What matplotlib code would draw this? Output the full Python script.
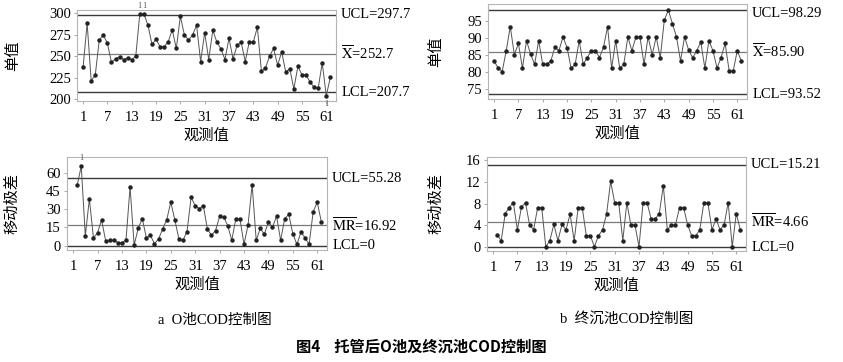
import matplotlib
matplotlib.use('Agg')
import matplotlib.pyplot as plt

plt.rcParams['font.family'] = ['Liberation Serif', 'Noto Sans CJK SC']
plt.rcParams['mathtext.fontset'] = 'stix'
plt.rcParams['font.size'] = 10.5

# O池 单值
o_single = [236.9, 288.2, 221.2, 227.8, 268.6, 274.5, 264.7, 242.7, 246.7, 249.0,
            245.9, 247.8, 245.9, 249.8, 299.0, 299.0, 285.9, 263.5, 269.4, 260.8,
            260.8, 266.7, 280.4, 258.8, 296.0, 274.5, 268.6, 274.1, 285.9, 243.5,
            277.3, 245.9, 280.0, 266.3, 258.4, 245.9, 270.6, 246.7, 262.4, 266.3,
            243.5, 266.3, 266.3, 283.5, 232.2, 236.1, 249.8, 258.8, 239.2, 254.9,
            231.4, 235.3, 211.8, 238.0, 228.2, 228.2, 219.6, 213.7, 212.5, 241.9,
            203.9, 225.1]
# O池 移动极差 (from point 2)
o_mr = [49.5, 65.3, 8.2, 38.4, 6.3, 10.6, 21.2, 4.0, 4.5, 4.5,
        2.6, 2.6, 4.5, 48.4, 0.5, 14.3, 22.2, 6.6, 8.5, 1.6,
        5.6, 13.5, 21.2, 35.7, 21.2, 5.6, 4.5, 11.6, 39.7, 33.0,
        30.4, 33.0, 13.8, 8.5, 12.4, 24.0, 23.8, 16.4, 4.5, 22.2,
        22.2, 1.1, 17.2, 50.0, 4.5, 14.3, 9.3, 19.6, 15.1, 24.3,
        4.5, 22.2, 25.7, 9.8, 1.1, 11.1, 6.6, 1.1, 27.8, 35.7,
        19.8]
# 终沉池 单值
z_single = [83.2, 81.3, 80.2, 86.3, 93.3, 85.1, 88.4, 81.2, 89.2, 85.3,
            82.3, 89.2, 82.3, 82.3, 83.3, 87.3, 86.3, 90.3, 87.2, 81.2,
            82.3, 89.2, 82.3, 84.3, 86.3, 86.3, 84.3, 87.3, 93.3, 81.2,
            89.2, 81.2, 82.3, 90.3, 86.3, 90.3, 90.3, 82.3, 90.3, 85.1,
            90.3, 84.2, 95.2, 98.1, 94.2, 90.3, 83.3, 90.3, 86.5, 84.2,
            86.3, 88.8, 81.2, 89.2, 86.3, 81.2, 84.3, 88.4, 80.4, 80.4,
            86.3, 83.3]
# 终沉池 移动极差 (from point 2)
z_mr = [2.3, 1.2, 6.2, 7.3, 8.2, 3.2, 7.4, 8.2, 4.1, 3.2,
        7.3, 7.3, 0.1, 1.2, 4.2, 1.2, 4.2, 3.2, 6.1, 1.2,
        7.3, 7.3, 2.1, 2.1, 0.1, 2.1, 3.2, 6.1, 12.1, 8.2,
        8.2, 1.2, 8.2, 4.1, 4.1, 0.1, 8.2, 8.2, 5.2, 5.2,
        6.2, 11.3, 3.2, 4.1, 4.1, 7.3, 7.3, 4.1, 2.1, 2.1,
        3.2, 8.2, 8.2, 3.2, 5.2, 3.2, 4.1, 8.2, 0.1, 6.2,
        3.2]

xticks = [1, 7, 13, 19, 25, 31, 37, 43, 49, 55, 61]

W, H = 843, 362
fig = plt.figure(figsize=(W / 100, H / 100), dpi=100)


def px_axes(l, r, t, b):
    return fig.add_axes([l / W, 1 - b / H, (r - l) / W, (b - t) / H])


def draw(ax, vals, start, limits, labels, ylim, yticks, flags, ucl_label_y=None):
    x = list(range(start, start + len(vals)))
    ucl, cl, lcl = limits
    ax.axhline(ucl, color='#3a3a3a', lw=1.0)
    ax.axhline(cl, color='#7a7a7a', lw=0.9)
    ax.axhline(lcl, color='#3a3a3a', lw=1.0)
    ax.plot(x, vals, color='#555555', lw=0.7, marker='o', ms=2.2,
            mfc='#222222', mec='#222222')
    for n, side in flags:
        v = vals[n - start]
        dy = 6 if side > 0 else -6
        ax.annotate('1', (n, v), xytext=(0, dy), textcoords='offset points',
                    ha='center', va='center', fontsize=6, color='#555555',
                    annotation_clip=False)
    ax.set_xlim(-0.5, 63.4)
    ax.set_ylim(*ylim)
    ax.set_xticks(xticks)
    ax.set_yticks(yticks)
    ax.tick_params(direction='out', length=2.5, width=0.6, color='#999999',
                   labelsize=10.5, pad=2)
    ax.tick_params(axis='x', pad=5)
    for s in ax.spines.values():
        s.set_color('#b5b5b5')
        s.set_linewidth(0.8)
    ys = [ucl, cl, lcl]
    if ucl_label_y is not None:
        ys[0] = ucl_label_y
    for txt, y in zip(labels, ys):
        ax.text(1.02, y, txt, transform=ax.get_yaxis_transform(),
                ha='left', va='center', fontsize=10.5)


ax1 = px_axes(77, 336, 10, 101)
draw(ax1, o_single, 1, (297.7, 252.7, 207.7),
     ['UCL=297.7', r'$\overline{\mathrm{X}}$=252.7', 'LCL=207.7'],
     (197.7, 303.5), [200, 225, 250, 275, 300], [(15, 1), (16, 1), (61, -1)])
ax1.set_ylabel('单值', fontsize=11)

ax2 = px_axes(67, 327, 157, 250)
draw(ax2, o_mr, 2, (55.28, 16.92, 0),
     ['UCL=55.28', r'$\overline{\mathrm{MR}}$=16.92', 'LCL=0'],
     (-3.5, 72.8), [0, 15, 30, 45, 60], [(3, 1)])
ax2.set_ylabel('移动极差', fontsize=11)

ax3 = px_axes(488, 747, 4, 99)
draw(ax3, z_single, 1, (98.29, 85.90, 73.52),
     ['UCL=98.29', r'$\overline{\mathrm{X}}$=85.90', 'LCL=93.52'],
     (72.2, 99.9), [75, 80, 85, 90, 95], [], ucl_label_y=97.2)
ax3.set_ylabel('单值', fontsize=11)

ax4 = px_axes(487, 746, 157, 251)
draw(ax4, z_mr, 2, (15.21, 4.66, 0),
     ['UCL=15.21', r'$\overline{\mathrm{MR}}$=4.66', 'LCL=0'],
     (-0.7, 16.6), [0, 4, 8, 12, 16], [])
ax4.set_ylabel('移动极差', fontsize=11)

# y label centres, pixels from the left edge of the figure
for ax, lx, left in ((ax1, 20, 77), (ax2, 20, 67), (ax3, 443, 488), (ax4, 443, 487)):
    ax.set_xlabel('观测值', fontsize=11, labelpad=3)
    ax.yaxis.set_label_coords((lx - left) / 259, 0.5)

fig.text(215 / W, 1 - 320 / H, 'a  O池COD控制图', ha='center', va='center', fontsize=10.5)
fig.text(627 / W, 1 - 320 / H, 'b  终沉池COD控制图', ha='center', va='center', fontsize=10.5)
fig.text(421 / W, 1 - 347 / H, '图4    托管后O池及终沉池COD控制图', ha='center', va='center',
         fontsize=11, fontweight='bold', family=['Noto Sans CJK SC', 'DejaVu Sans'])

fig.savefig('out.png', dpi=100)
